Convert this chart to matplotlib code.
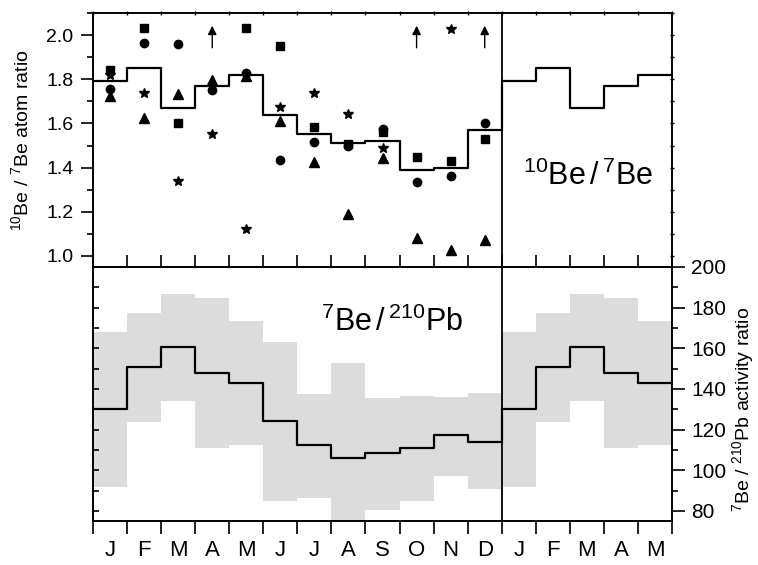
import matplotlib
matplotlib.use("Agg")
import matplotlib.pyplot as plt
import numpy as np
from matplotlib.ticker import MultipleLocator, FixedLocator, NullFormatter

plt.rcParams['font.family'] = ['Liberation Sans', 'DejaVu Sans']
plt.rcParams['mathtext.fontset'] = 'custom'
plt.rcParams['mathtext.rm'] = 'Liberation Sans'
plt.rcParams['mathtext.it'] = 'Liberation Sans:italic'

# monthly data, Jan..Dec; the right part repeats Jan..May
months = ['J', 'F', 'M', 'A', 'M', 'J', 'J', 'A', 'S', 'O', 'N', 'D']
n_repeat = 5

be_mean = [1.79, 1.85, 1.67, 1.77, 1.82, 1.64, 1.55, 1.51, 1.52, 1.39, 1.40, 1.57]
be_square = [1.84, 2.03, 1.60, np.nan, 2.03, 1.95, 1.585, 1.508, 1.56, 1.45, 1.43, 1.53]
be_circle = [1.755, 1.965, 1.96, 1.75, 1.83, 1.433, 1.514, 1.50, 1.575, 1.334, 1.364, 1.604]
be_triangle = [1.722, 1.624, 1.734, 1.797, 1.815, 1.609, 1.424, 1.188, 1.445, 1.083, 1.026, 1.072]
be_star = [1.82, 1.737, 1.338, 1.553, 1.12, 1.674, 1.737, 1.645, 1.489, np.nan, 2.028, np.nan]
arrow_months = [3, 9, 11]   # off-scale values shown as arrows
arrow_from, arrow_to = 1.93, 2.055

pb_mean = [130.1, 150.6, 160.5, 147.7, 142.7, 124.0, 112.3, 105.8, 108.5, 110.7, 117.3, 114.0]
pb_high = [168.2, 177.5, 186.6, 184.9, 173.4, 163.2, 137.5, 152.6, 135.6, 136.6, 136.1, 137.8]
pb_low = [91.8, 123.8, 134.0, 110.7, 112.3, 84.7, 86.5, 72.0, 80.6, 84.9, 97.2, 90.5]


def extend(vals):
    v = list(vals) + list(vals[:n_repeat])
    return np.array(v + [v[-1]])


n_total = len(months) + n_repeat
edges = np.arange(n_total + 1)
centers = np.arange(len(months)) + 0.5
labels = months + months[:n_repeat]

fig = plt.figure(figsize=(7.58, 5.65), dpi=100)
ax1 = fig.add_axes([0.1227, 0.5274, 0.7639, 0.4496])
ax2 = fig.add_axes([0.1227, 0.0779, 0.7639, 0.4496])

# ---- top panel: 10Be/7Be
ax1.step(edges, extend(be_mean), where='post', color='k', lw=1.6, zorder=3)
ax1.plot(centers, be_square, 's', color='k', ms=5.5, zorder=4)
ax1.plot(centers, be_circle, 'o', color='k', ms=6, zorder=4)
ax1.plot(centers, be_triangle, '^', color='k', ms=6.5, zorder=4)
ax1.plot(centers, be_star, '*', color='k', ms=7, zorder=4)
for m in arrow_months:
    ax1.annotate('', xy=(centers[m], arrow_to), xytext=(centers[m], arrow_from),
                 arrowprops=dict(arrowstyle='-|>', color='k', lw=1, mutation_scale=13))
ax1.axvline(len(months), color='k', lw=1.3)
ax1.set_xlim(0, n_total)
ax1.set_ylim(0.95, 2.1)
ax1.yaxis.set_major_locator(FixedLocator([1.0, 1.2, 1.4, 1.6, 1.8, 2.0]))
ax1.yaxis.set_minor_locator(MultipleLocator(0.1))
ax1.xaxis.set_major_locator(MultipleLocator(1))
ax1.tick_params(axis='x', bottom=False, top=True, labelbottom=False,
                direction='inout', length=3, width=1)
ax1.tick_params(axis='y', which='major', direction='out', length=9, width=1.2,
                labelsize=14, pad=5)
ax1.tick_params(axis='y', which='minor', direction='out', length=4, width=1.2)
ax1.set_ylabel(r'$^{10}$Be / $^{7}$Be atom ratio', fontsize=14)
ax1.yaxis.set_label_coords(-0.105, 0.5)
ax1.text(14.52, 1.323, r'$^{10}$Be$\,$/$\,^{7}$Be', fontsize=22, ha='center', va='baseline')

# tiny ticks on the right spine of the top panel
ax1r = ax1.twinx()
ax1r.set_ylim(0.95, 2.1)
ax1r.yaxis.set_major_locator(MultipleLocator(0.1))
ax1r.tick_params(direction='inout', length=3, width=1, labelright=False)

# ---- bottom panel: 7Be/210Pb
ax2.fill_between(edges, extend(pb_low), extend(pb_high), step='post',
                 color='#dcdcdc', lw=0, zorder=1)
ax2.step(edges, extend(pb_mean), where='post', color='k', lw=1.6, zorder=3)
ax2.axvline(len(months), color='k', lw=1.3, zorder=4)
ax2.set_xlim(0, n_total)
ax2.set_ylim(75, 200)
ax2.xaxis.set_major_locator(MultipleLocator(1))
ax2.xaxis.set_major_formatter(NullFormatter())
ax2.xaxis.set_minor_locator(FixedLocator(np.arange(n_total) + 0.5))
ax2.set_xticklabels(labels, minor=True)
ax2.tick_params(axis='x', which='major', top=True, direction='out', length=9, width=1.2)
ax2.tick_params(axis='x', which='minor', length=0, labelsize=16, pad=14)
ax2.yaxis.set_major_locator(MultipleLocator(10))
ax2.yaxis.set_major_formatter(NullFormatter())
ax2.tick_params(axis='y', direction='in', length=4, width=1.2)
ax2.text(8.78, 168.7, r'$^{7}$Be$\,$/$\,^{210}$Pb', fontsize=22, ha='center', va='baseline')

# right-hand scale of the bottom panel
axr = ax2.twinx()
axr.set_ylim(75, 200)
axr.yaxis.set_major_locator(MultipleLocator(20))
axr.yaxis.set_minor_locator(MultipleLocator(10))
axr.tick_params(which='major', direction='out', length=9, width=1.2, labelsize=15, pad=5)
axr.tick_params(which='minor', direction='out', length=4, width=1.2)
axr.set_ylabel(r'$^{7}$Be / $^{210}$Pb activity ratio', fontsize=14)
axr.yaxis.set_label_coords(1.1, 0.44)

for ax in (ax1, ax1r, ax2, axr):
    for s in ax.spines.values():
        s.set_linewidth(1.2)

fig.savefig('out.png', dpi=100)
